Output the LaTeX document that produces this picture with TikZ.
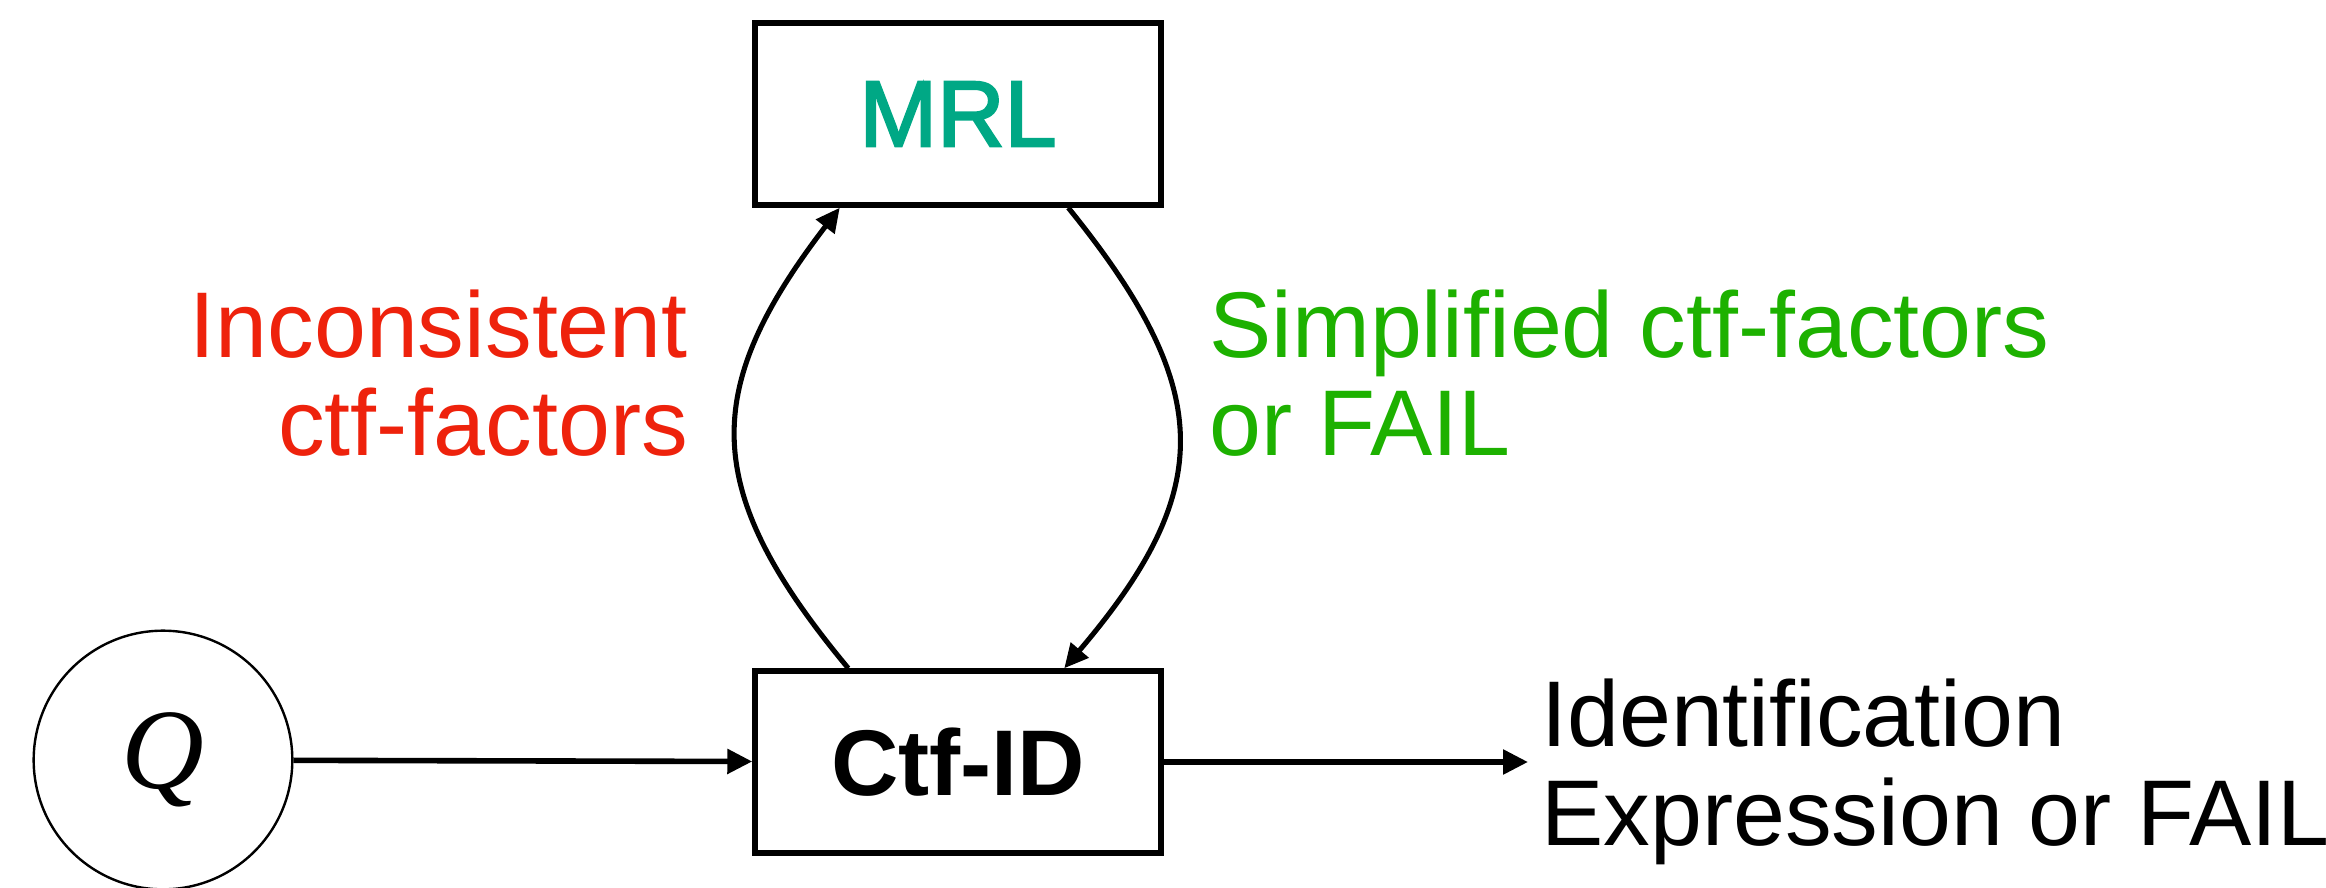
\documentclass[tikz,border=0pt]{standalone}
\usepackage{fontspec}
\setmainfont{Liberation Sans}
\newfontfamily\qfont{Liberation Serif}
\newfontfamily\medfont[FakeBold=2.5]{Liberation Sans}
\usetikzlibrary{arrows.meta}
\definecolor{kred}{HTML}{EE220C}
\definecolor{kgreen}{HTML}{1DB100}
\definecolor{kteal}{HTML}{00A885}
\tikzset{
  procbox/.style={draw=black, line width=4.6pt, minimum width=304pt, minimum height=136pt, inner sep=0pt},
  bigtext/.style={font=\fontsize{70}{73.5}\selectfont, inner sep=0pt},
  flow/.style={line width=4.2pt, -{Triangle[length=18.75pt,width=18pt]}},
  loop/.style={line width=3.8pt, -{Triangle[length=18pt,width=17pt]}}
}
\begin{document}
\begin{tikzpicture}[x=0.75pt, y=-0.75pt]
  \useasboundingbox (0,0) rectangle (2326,888);

  % processing boxes
  \node[procbox, text=kteal, font=\fontsize{70}{84}\selectfont\medfont] (mrl) at (958,114) {MRL};
  \node[procbox, font=\fontsize{70}{84}\selectfont\bfseries] (ctf) at (958,762) {Ctf-ID};

  % query node
  \node[draw=black, line width=1.8pt, circle, minimum size=194pt, inner sep=0pt,
        font=\fontsize{86}{96}\selectfont\qfont\itshape] (q) at (163,760) {Q};

  % edge labels (anchored on the baseline of the last line)
  \node[bigtext, text=kred, align=right, anchor=base east] (lbl1) at (688,455)
    {Inconsistent\\ctf-factors};
  \node[bigtext, text=kgreen, align=left, anchor=base west] (lbl2) at (1209,455)
    {Simplified ctf-factors\\or FAIL};
  \node[bigtext, font=\fontsize{70}{74.25}\selectfont, align=left, anchor=base west] (res) at (1541,845)
    {Identification\\Expression or FAIL};

  % connectors
  \coordinate (outend) at (1528,762);
  \draw[flow] (q) -- (ctf);
  \draw[flow] (ctf) -- (outend);

  \draw[loop] ([xshift=72pt]ctf.north west) .. controls (700,490) and (700,390) ..
    ([xshift=65.6pt]mrl.south west);
  \draw[loop] ([xshift=237pt]mrl.south west) .. controls (1216,390) and (1216,490) ..
    ([xshift=234pt]ctf.north west);
\end{tikzpicture}
\end{document}
